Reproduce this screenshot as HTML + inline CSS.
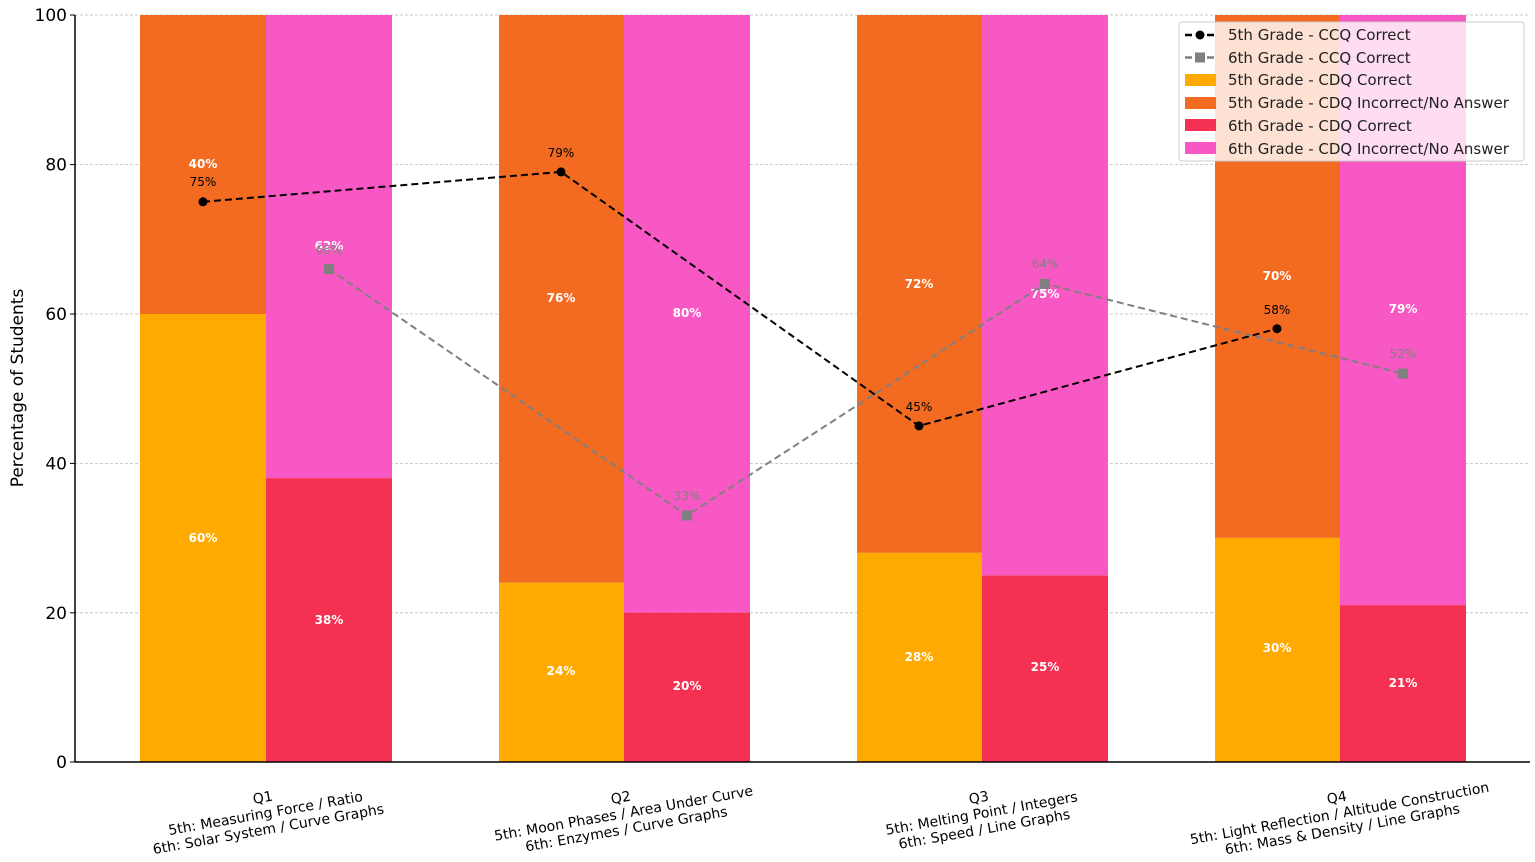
<!DOCTYPE html>
<html><head><style>body{margin:0;background:#fff}svg{display:block;font-family:"DejaVu Sans","Liberation Sans",sans-serif}</style></head><body>
<svg width="1535" height="862" viewBox="0 0 1535 862">
<g stroke="#bbb" stroke-dasharray="3,2" stroke-width="0.8">
<line x1="75" x2="1530" y1="15" y2="15"/><line x1="75" x2="1530" y1="164.6" y2="164.6"/><line x1="75" x2="1530" y1="314" y2="314"/><line x1="75" x2="1530" y1="463.4" y2="463.4"/><line x1="75" x2="1530" y1="612.8" y2="612.8"/>
</g>
<!-- bars -->
<g>
<rect x="140" y="314" width="126" height="448" fill="#FFAA00"/><rect x="140" y="15" width="126" height="299" fill="#F26B21"/>
<rect x="266" y="478.1" width="126" height="283.9" fill="#F43152"/><rect x="266" y="15" width="126" height="463.1" fill="#F858C4"/>
<rect x="499" y="582.7" width="125" height="179.3" fill="#FFAA00"/><rect x="499" y="15" width="125" height="567.7" fill="#F26B21"/>
<rect x="624" y="612.6" width="126" height="149.4" fill="#F43152"/><rect x="624" y="15" width="126" height="597.6" fill="#F858C4"/>
<rect x="857" y="552.8" width="125" height="209.2" fill="#FFAA00"/><rect x="857" y="15" width="125" height="537.8" fill="#F26B21"/>
<rect x="982" y="575.3" width="126" height="186.7" fill="#F43152"/><rect x="982" y="15" width="126" height="560.3" fill="#F858C4"/>
<rect x="1215" y="537.9" width="125" height="224.1" fill="#FFAA00"/><rect x="1215" y="15" width="125" height="522.9" fill="#F26B21"/>
<rect x="1340" y="605.1" width="126" height="156.9" fill="#F43152"/><rect x="1340" y="15" width="126" height="590.1" fill="#F858C4"/>
</g>
<g fill="#fff" font-size="12" font-weight="bold" text-anchor="middle">
<text x="203" y="168">40%</text><text x="203" y="542">60%</text>
<text x="329" y="250">62%</text><text x="329" y="624">38%</text>
<text x="561" y="302">76%</text><text x="561" y="675">24%</text>
<text x="687" y="317">80%</text><text x="687" y="690">20%</text>
<text x="919" y="288">72%</text><text x="919" y="661">28%</text>
<text x="1045" y="298">75%</text><text x="1045" y="671">25%</text>
<text x="1277" y="280">70%</text><text x="1277" y="652">30%</text>
<text x="1403" y="313">79%</text><text x="1403" y="687">21%</text>
</g>
<!-- lines -->
<polyline points="203,201.8 561,171.9 919,425.9 1277,328.7" fill="none" stroke="#000" stroke-width="2" stroke-dasharray="7,4"/>
<polyline points="329,269 687,515.5 1045,283.9 1403,373.6" fill="none" stroke="#808080" stroke-width="2" stroke-dasharray="7,4"/>
<g fill="#000"><circle cx="203" cy="201.8" r="4.5"/><circle cx="561" cy="171.9" r="4.5"/><circle cx="919" cy="425.9" r="4.5"/><circle cx="1277" cy="328.7" r="4.5"/></g>
<g fill="#808080"><rect x="324" y="264" width="10" height="10"/><rect x="682" y="510.5" width="10" height="10"/><rect x="1040" y="278.9" width="10" height="10"/><rect x="1398" y="368.6" width="10" height="10"/></g>
<g font-size="12" text-anchor="middle">
<text x="203" y="186">75%</text><text x="561" y="157">79%</text><text x="919" y="411">45%</text><text x="1277" y="314">58%</text>
<g fill="#808080"><text x="329" y="254">66%</text><text x="687" y="500">33%</text><text x="1045" y="268">64%</text><text x="1403" y="358">52%</text></g>
</g>
<!-- axes -->
<line x1="75" y1="15" x2="75" y2="762" stroke="#000" stroke-width="1.5"/>
<line x1="75" y1="762" x2="1530" y2="762" stroke="#000" stroke-width="1.5"/>
<g stroke="#000"><line x1="70" x2="75" y1="15" y2="15"/><line x1="70" x2="75" y1="164.6" y2="164.6"/><line x1="70" x2="75" y1="314" y2="314"/><line x1="70" x2="75" y1="463.4" y2="463.4"/><line x1="70" x2="75" y1="612.8" y2="612.8"/><line x1="70" x2="75" y1="762" y2="762"/></g>
<g font-size="17" text-anchor="end">
<text x="67" y="21">100</text><text x="67" y="170.6">80</text><text x="67" y="320">60</text><text x="67" y="469.4">40</text><text x="67" y="618.8">20</text><text x="67" y="768">0</text>
</g>
<text transform="translate(23,388) rotate(-90)" font-size="17" text-anchor="middle">Percentage of Students</text>
<g font-size="14" text-anchor="middle">
<g transform="translate(266,816) rotate(-10)"><text y="-14">Q1</text><text y="2">5th: Measuring Force / Ratio</text><text y="18">6th: Solar System / Curve Graphs</text></g>
<g transform="translate(624,816) rotate(-10)"><text y="-14">Q2</text><text y="2">5th: Moon Phases / Area Under Curve</text><text y="18">6th: Enzymes / Curve Graphs</text></g>
<g transform="translate(982,816) rotate(-10)"><text y="-14">Q3</text><text y="2">5th: Melting Point / Integers</text><text y="18">6th: Speed / Line Graphs</text></g>
<g transform="translate(1340,816) rotate(-10)"><text y="-14">Q4</text><text y="2">5th: Light Reflection / Altitude Construction</text><text y="18">6th: Mass &amp; Density / Line Graphs</text></g>
</g>
<!-- legend -->
<rect x="1179" y="22" width="345" height="139" rx="3" fill="#fff" fill-opacity="0.8" stroke="#ccc"/>
<line x1="1185" x2="1215" y1="35" y2="35" stroke="#000" stroke-width="2.5" stroke-dasharray="7,4"/><circle cx="1200" cy="35" r="4.5"/>
<line x1="1185" x2="1215" y1="57.5" y2="57.5" stroke="#808080" stroke-width="2.5" stroke-dasharray="7,4"/><rect x="1195" y="52.5" width="10" height="10" fill="#808080"/>
<rect x="1185" y="74" width="31" height="12" fill="#FFAA00"/>
<rect x="1185" y="97" width="31" height="12" fill="#F26B21"/>
<rect x="1185" y="119" width="31" height="12" fill="#F43152"/>
<rect x="1185" y="142" width="31" height="12" fill="#F858C4"/>
<g font-size="15" fill="#222">
<text x="1228" y="40">5th Grade - CCQ Correct</text>
<text x="1228" y="63">6th Grade - CCQ Correct</text>
<text x="1228" y="85">5th Grade - CDQ Correct</text>
<text x="1228" y="108">5th Grade - CDQ Incorrect/No Answer</text>
<text x="1228" y="131">6th Grade - CDQ Correct</text>
<text x="1228" y="154">6th Grade - CDQ Incorrect/No Answer</text>
</g>
</svg>
</body></html>
